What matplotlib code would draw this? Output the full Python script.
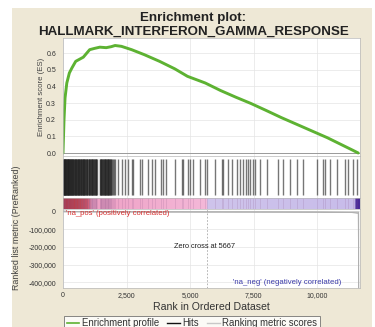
import numpy as np
import matplotlib
matplotlib.use("Agg")
import matplotlib.pyplot as plt
from matplotlib.colors import LinearSegmentedColormap
from matplotlib.lines import Line2D
from matplotlib.patches import Rectangle

plt.rcParams['font.family'] = ['Liberation Sans', 'DejaVu Sans']

# ---- data -------------------------------------------------------------
gene_set = "HALLMARK_INTERFERON_GAMMA_RESPONSE"
n_genes = 11690
zero_cross = 5667

# running enrichment score (rank, ES)
es_rank = [0, 40, 80, 150, 250, 350, 500, 800, 1050, 1250, 1450, 1700, 1900,
           2050, 2300, 2700, 3200, 3800, 4400, 4900, 5600, 6200, 6800, 7400,
           8000, 8600, 9200, 9800, 10400, 11000, 11400, 11620]
es_score = [0.0, 0.20, 0.33, 0.42, 0.48, 0.51, 0.55, 0.575, 0.62, 0.628, 0.635,
            0.632, 0.638, 0.645, 0.64, 0.62, 0.59, 0.55, 0.505, 0.46, 0.42,
            0.375, 0.335, 0.297, 0.255, 0.212, 0.172, 0.132, 0.092, 0.047,
            0.017, 0.0]

# positions of gene-set members in the ranked list
hit_ranks = [
    5, 14, 22, 30, 41, 52, 61, 70, 82, 95, 108, 120, 131, 140, 152, 165, 178,
    190, 203, 215, 228, 240, 251, 262, 276, 290, 302, 315, 330, 345, 358, 372,
    385, 398, 409, 420, 437, 455, 468, 480, 495, 510, 525, 540, 557, 575, 588,
    600, 615, 630, 648, 665, 678, 690, 705, 720, 735, 750, 768, 785, 798, 810,
    825, 840, 855, 870, 888, 905, 930, 945, 960, 990, 1005, 1020, 1038, 1055,
    1070, 1085, 1110, 1125, 1140, 1158, 1175, 1200, 1215, 1230, 1248, 1265,
    1283, 1300, 1318, 1335,
    1460, 1475, 1490, 1503, 1515, 1530, 1545, 1560, 1575, 1600, 1618, 1635,
    1650, 1665, 1683, 1700, 1715, 1730, 1760, 1775, 1790, 1808, 1825, 1843,
    1860, 1890, 1908, 1925, 1960, 1990, 2030,
    2165, 2323, 2441, 2559, 2720, 2756, 3031, 3110, 3346, 3504, 3622, 3858,
    3950, 4055, 4409, 4685, 4724, 4921, 5000, 5118, 5394, 5591, 5669, 5984,
    6260, 6299, 6496, 6650, 6850, 6968, 7087, 7205, 7283, 7362, 7480, 7559,
    7756, 8031, 8465, 8661, 8937, 9213, 9449, 10000, 10236, 10315, 10512,
    10787, 11102, 11230, 11417, 11575]

# ranking metric (rank, score)
metric_rank = [0, 300, 1000, 2500, 4000, zero_cross, 8000, 10000, 11300,
               11600, 11610, 11620]
metric_score = [6000, 2500, 1200, 600, 200, 0, -300, -800, -2500, -8000,
                -200000, -430000]

# ---- figure -----------------------------------------------------------
fig = plt.figure(figsize=(3.75, 3.27), dpi=100)
fig.patch.set_facecolor('white')
fig.patches.append(Rectangle((12 / 375, 0), 1 - 15 / 375, 1 - 8 / 327,
                             transform=fig.transFigure, facecolor='#eee8d6',
                             edgecolor='none', zorder=-10))

def fy(px):
    return 1 - px / 327

L, R = 63 / 375, 360 / 375
W = R - L
grid_kw = dict(color='#e4e4e4', lw=0.5)
tick_fs = 5.0

ax_es = fig.add_axes([L, fy(156), W, fy(38) - fy(156)])
ax_hit = fig.add_axes([L, fy(198), W, fy(156) - fy(198)])
ax_bar = fig.add_axes([L, fy(209), W, fy(198) - fy(209)])
ax_rm = fig.add_axes([L, fy(288), W, fy(209) - fy(288)])

xticks = [0, 2500, 5000, 7500, 10000]
for ax in (ax_es, ax_hit, ax_bar, ax_rm):
    ax.set_xlim(0, n_genes)
    ax.set_facecolor('white')
    for s in ax.spines.values():
        s.set_color('#b8b8b8')
        s.set_linewidth(0.5)
    ax.tick_params(length=0, labelsize=tick_fs, colors='#333333', pad=5)
    ax.set_xticks(xticks)
    ax.set_xticklabels([])

# enrichment score panel
ax_es.set_ylim(-0.018, 0.69)
ax_es.set_yticks(np.arange(0, 0.61, 0.1))
ax_es.set_yticklabels([f"{v:.1f}" for v in np.arange(0, 0.61, 0.1)])
ax_es.grid(True, **grid_kw)
ax_es.set_axisbelow(True)
ax_es.axhline(0, color='#9a9a9a', lw=0.7)
ax_es.plot(es_rank, es_score, color='#5db232', lw=2.1, solid_capstyle='round')
ax_es.set_ylabel("Enrichment score (ES)", fontsize=5.6, color='#444444',
                 labelpad=0.5)

# hits panel
ax_hit.set_ylim(0, 1)
ax_hit.set_yticks([])
ax_hit.grid(True, axis='x', **grid_kw)
ax_hit.set_axisbelow(True)
ax_hit.vlines(hit_ranks, 0.06, 0.94, color='#222222', lw=1.0, alpha=0.62)

# colour bar along the ranked list
ramp = LinearSegmentedColormap.from_list("rank_ramp", [
    (0.0, '#c42424'), (0.05, '#d23a3a'), (0.08, '#dc5060'),
    (0.095, '#eea0c4'), (zero_cross / n_genes - 0.001, '#f4b8d8'),
    (zero_cross / n_genes + 0.001, '#cfc4ec'), (0.985, '#c8bcea'),
    (0.99, '#4a2a98'), (1.0, '#4a2a98')])
pos = np.linspace(0, 1, 600)[None, :]
ax_bar.imshow(pos, cmap=ramp, aspect='auto', extent=(0, n_genes, 0, 1),
              interpolation='bilinear')
ax_bar.vlines(hit_ranks, 0, 1, color='#8a5a8a', lw=0.5, alpha=0.25)
ax_bar.set_ylim(0, 1)
ax_bar.set_yticks([])

# ranked list metric panel
ax_rm.set_ylim(-432000, 14000)
yt = [0, -100000, -200000, -300000, -400000]
ax_rm.set_yticks(yt)
ax_rm.set_yticklabels(["0"] + [f"{v:,}" for v in yt[1:]])
ax_rm.grid(True, **grid_kw)
ax_rm.set_axisbelow(True)
ax_rm.fill_between(metric_rank, metric_score, 0, color='#c8c8c8', lw=0.6,
                   edgecolor='#b0b0b0')
ax_rm.axvline(zero_cross, color='#a8a8a8', lw=0.6, ls=(0, (2, 2)))
ax_rm.set_xticklabels([f"{v:,}" for v in xticks])
ax_rm.tick_params(axis='x', pad=3)
ax_rm.set_xlabel("Rank in Ordered Dataset", fontsize=7.6, color='#333333',
                 labelpad=2)
ax_rm.text(120, 6000, "'na_pos' (positively correlated)", color='#d83030',
           fontsize=5.5, va='top', ha='left')
ax_rm.text(zero_cross - 80, -200000, f"Zero cross at {zero_cross}",
           fontsize=5.3, ha='center', va='center', color='#222222')
ax_rm.text(10950, -400000, "'na_neg' (negatively correlated)",
           color='#3a3aa8', fontsize=5.6, ha='right', va='center')
fig.text(17 / 375, fy(228), "Ranked list metric (PreRanked)", rotation=90,
         fontsize=6.4, color='#444444', ha='center', va='center')

# title
fig.text(0.515, fy(18), "Enrichment plot:", fontsize=9.6, fontweight='bold',
         ha='center', va='center', color='#222222')
fig.text(0.515, fy(31.5), gene_set, fontsize=9.6, fontweight='bold',
         ha='center', va='center', color='#222222')

# legend
handles = [Line2D([], [], color='#5db232', lw=1.2),
           Line2D([], [], color='#111111', lw=1.0),
           Line2D([], [], color='#c8c8c8', lw=1.0)]
leg = fig.legend(handles, ["Enrichment profile", "Hits", "Ranking metric scores"],
                 loc='lower center', bbox_to_anchor=(0.512, -0.022), ncol=3,
                 fontsize=6.9, frameon=True, fancybox=False,
                 handlelength=1.3, handletextpad=0.25, columnspacing=0.9,
                 borderpad=0.3, borderaxespad=0.3)
leg.get_frame().set_edgecolor('#555555')
leg.get_frame().set_linewidth(0.6)
for t in leg.get_texts():
    t.set_color('#333333')

fig.savefig("out.png", dpi=100, facecolor=fig.get_facecolor())
